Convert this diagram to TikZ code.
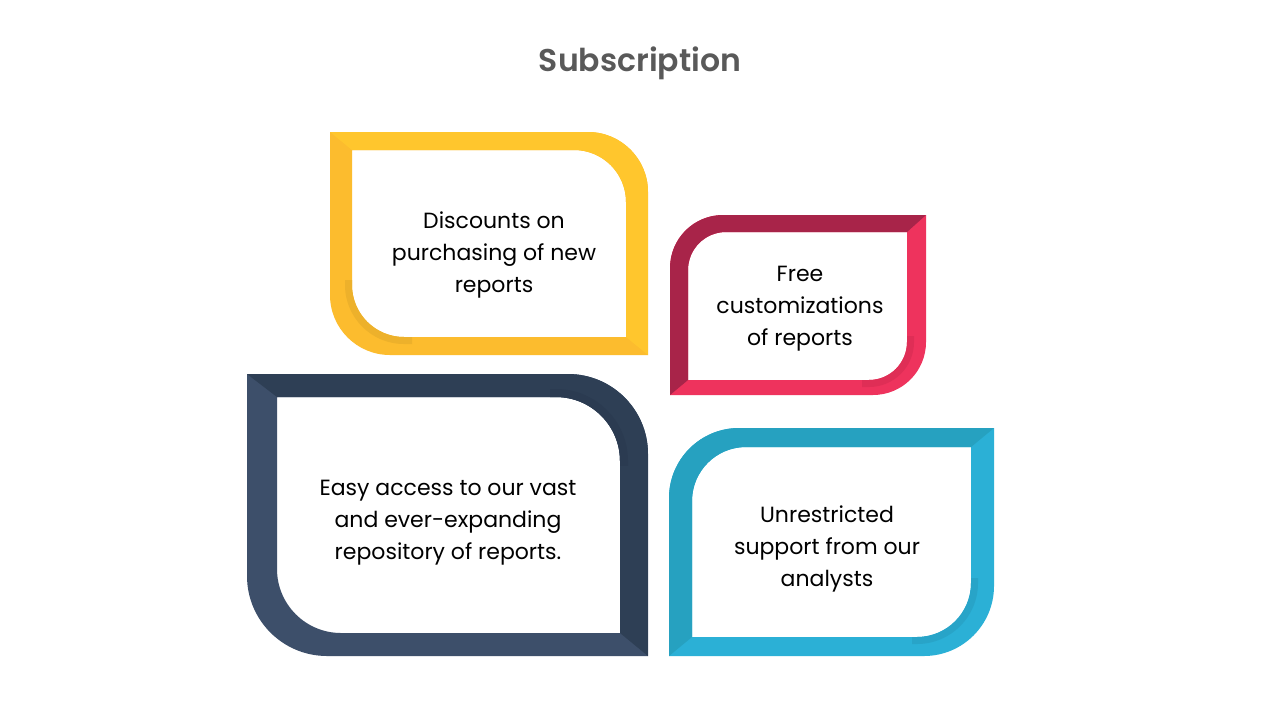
\documentclass[tikz,border=0pt]{standalone}
\usepackage{fontspec}
\setmainfont{Poppins}
\newfontfamily\titlefont{Poppins SemiBold}
\usepackage{xcolor}
\usepackage{tikz}
\usetikzlibrary{positioning}

\definecolor{titlegray}{HTML}{595959}
\definecolor{yellowA}{HTML}{FFC62D}
\definecolor{yellowB}{HTML}{FCBC2E}
\definecolor{yellowC}{HTML}{EDB12B}
\definecolor{pinkA}{HTML}{A82449}
\definecolor{pinkB}{HTML}{EE335D}
\definecolor{pinkC}{HTML}{DF2E56}
\definecolor{navyA}{HTML}{2E3F55}
\definecolor{navyB}{HTML}{3D4F6A}
\definecolor{navyC}{HTML}{2B3B51}
\definecolor{cyanA}{HTML}{26A1C0}
\definecolor{cyanB}{HTML}{2BB0D6}
\definecolor{cyanC}{HTML}{28A4C8}

% leaf outlines in pixel units (x1,y1 top left; x2,y2 bottom right; radius)
% A: round top right and bottom left
\newcommand{\leafA}[5]{(#1,-#2) -- ({#3-#5},-#2) arc[start angle=90,end angle=0,radius=#5pt] -- (#3,-#4) -- ({#1+#5},-#4) arc[start angle=270,end angle=180,radius=#5pt] -- cycle}
% B: round top left and bottom right
\newcommand{\leafB}[5]{({#1+#5},-#2) -- (#3,-#2) -- (#3,{-#4+#5}) arc[start angle=0,end angle=-90,radius=#5pt] -- (#1,-#4) -- (#1,{-#2-#5}) arc[start angle=180,end angle=90,radius=#5pt] -- cycle}

\begin{document}
\begin{tikzpicture}[x=1pt, y=1pt,
  frame/.style={even odd rule},
  label/.style={align=center, text=black, font=\fontsize{22}{32}\selectfont},
  ]
  \useasboundingbox (0,0) rectangle (1281,-721);
  \fill[white] (0,0) rectangle (1281,-721);

  % Title
  \node[font=\fontsize{31.5}{36}\selectfont\titlefont, text=titlegray] (title) at (640,-63) {Subscription};

  % Discounts (yellow)
  \fill[yellowB, frame] \leafA{330}{132}{648}{355}{60} \leafA{352}{150}{626}{337}{52};
  \begin{scope}
    \clip (330,-132) -- (352,-150) -- (626,-337) -- (648,-355) -- (648,-132) -- cycle;
    \fill[yellowA, frame] \leafA{330}{132}{648}{355}{60} \leafA{352}{150}{626}{337}{52};
  \end{scope}
  \begin{scope}
    \clip (330,-280) rectangle (412,-355);
    \fill[yellowC, frame] \leafA{345}{143}{633}{344}{59} \leafA{352}{150}{626}{337}{52};
  \end{scope}
  \node[label] (discounts) at (494,-255) {Discounts on\\purchasing of new\\reports};

  % Customizations (pink)
  \fill[pinkB, frame] \leafB{670}{215}{926}{395}{53} \leafB{688}{232}{907}{380}{38};
  \begin{scope}
    \clip (926,-215) -- (907,-232) -- (688,-380) -- (670,-395) -- (670,-215) -- cycle;
    \fill[pinkA, frame] \leafB{670}{215}{926}{395}{53} \leafB{688}{232}{907}{380}{38};
  \end{scope}
  \begin{scope}
    \clip (862,-336) rectangle (926,-395);
    \fill[pinkC, frame] \leafB{681}{225}{914}{387}{45} \leafB{688}{232}{907}{380}{38};
  \end{scope}
  \node[label] (custom) at (800,-309) {Free\\customizations\\of reports};

  % Repository (navy)
  \fill[navyB, frame] \leafA{247}{374}{648}{656}{80} \leafA{277}{397}{620}{633}{64};
  \begin{scope}
    \clip (247,-374) -- (277,-397) -- (620,-633) -- (648,-656) -- (648,-374) -- cycle;
    \fill[navyA, frame] \leafA{247}{374}{648}{656}{80} \leafA{277}{397}{620}{633}{64};
  \end{scope}
  \begin{scope}
    \clip (550,-374) rectangle (648,-465);
    \fill[navyC, frame] \leafA{269}{389}{628}{641}{72} \leafA{277}{397}{620}{633}{64};
  \end{scope}
  \node[label] (access) at (448,-523) {Easy access to our vast\\and ever-expanding\\repository of reports.};

  % Support (cyan)
  \fill[cyanB, frame] \leafB{669}{428}{994}{656}{70} \leafB{692}{447}{971}{637}{54};
  \begin{scope}
    \clip (994,-428) -- (971,-447) -- (692,-637) -- (669,-656) -- (669,-428) -- cycle;
    \fill[cyanA, frame] \leafB{669}{428}{994}{656}{70} \leafB{692}{447}{971}{637}{54};
  \end{scope}
  \begin{scope}
    \clip (912,-578) rectangle (994,-656);
    \fill[cyanC, frame] \leafB{685}{440}{978}{644}{61} \leafB{692}{447}{971}{637}{54};
  \end{scope}
  \node[label] (support) at (827,-549) {Unrestricted\\support from our\\analysts};
\end{tikzpicture}
\end{document}
